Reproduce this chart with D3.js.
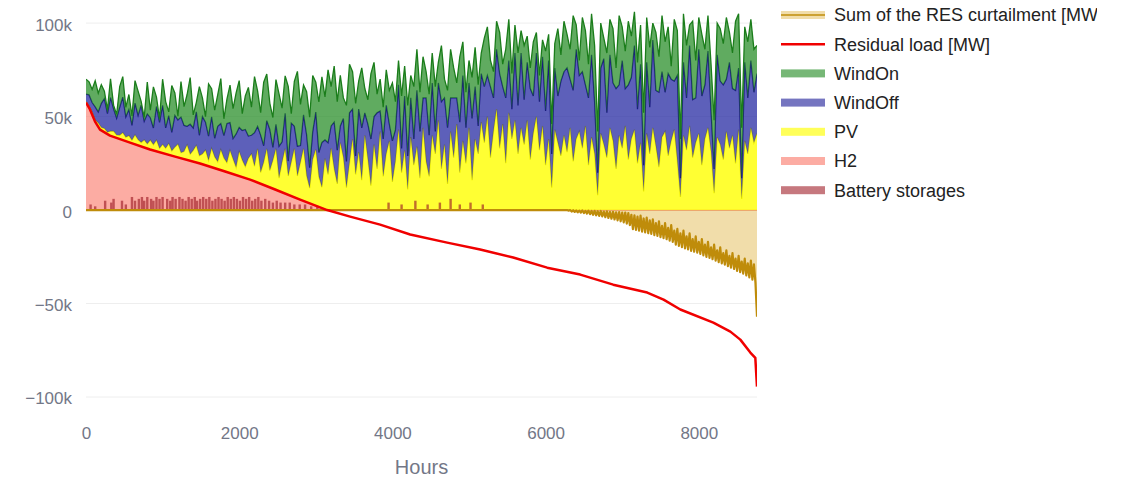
<!DOCTYPE html>
<html>
<head>
<meta charset="utf-8">
<script src="https://cdn.jsdelivr.net/npm/d3@7"></script>
<style>
  body { margin: 0; background: #fff; }
  svg { display: block; font-family: "Liberation Sans", Arial, sans-serif; }
</style>
</head>
<body>
<svg id="chart" width="1122" height="479"></svg>
<script>

// stacked generation, one sample every 40 hours (0 .. 8760)
const hours = d3.range(0, 8761, 40);

const h2 = [
  57.5,54.6,51,47.2,44.5,42.6,41.6,40.6,39.7,39.1,
  38.6,38,37.4,36.9,36.3,35.8,35.2,34.6,34.1,33.5,
  32.9,32.4,31.9,31.4,30.9,30.5,30,29.5,29.1,28.6,
  28.2,27.7,27.3,26.8,26.4,25.9,25.5,25,24.5,24,
  23.5,22.9,22.4,21.8,21.3,20.8,20.3,19.8,19.2,18.7,
  18.2,17.6,17.1,16.6,16,15.4,14.7,14.1,13.4,12.8,
  12.1,11.5,10.8,10.1,9.5,8.8,8.2,7.5,6.8,6.2,
  5.5,4.9,4.3,3.7,3,2.4,1.8,1.2,0.5,0
];

const pv = [
  0.5,1,1.5,1,2,1.5,2,1,2.5,3,
  1.5,2,4,2,3.5,1.5,5,3,2,4,
  2.5,5,3,6,2,4.5,3,6,2.5,5,
  7,3,4,8,3.5,6,9,4,5.5,8,
  3,10,6,4,11,7,5,12,8,4,
  13,9,6,11,14,8,18,6,12,20,
  9,15,22,7,16,24,10,18,26,12,
  20,28,14,8,24,30,16,11,27,19,
  33,22,14,36,28,12,25,38,19,31,
  16,40,27,13,35,22,42,18,30,37,
  15,26,43,20,32,11,39,24,34,17,
  44,26,18,40,30,48,22,35,14,42,
  28,46,20,37,25,44,16,38,30,47,
  36,50,28,42,54,33,46,25,52,38,
  48,30,44,35,48,27,41,50,32,45,
  24,38,12,43,36,29,40,31,44,26,
  38,42,33,45,24,39,30,8,41,35,
  28,44,37,22,40,33,45,27,38,43,
  25,36,10,41,30,44,34,23,39,42,
  29,37,43,26,7,40,32,45,28,36,
  41,24,38,44,31,9,39,35,27,42,
  33,40,25,43,6,37,30,44,36,41
];

const windOff = [
  4,6,5,7,6,13,16,10,18,12,
  9,15,19,11,14,8,17,13,20,10,
  16,12,9,18,14,21,11,15,10,17,
  13,19,14,10,16,12,18,11,20,15,
  13,17,10,19,14,12,21,15,11,18,
  13,16,20,12,10,18,12,20,9,15,
  22,7,13,17,11,19,8,21,12,16,
  9,18,22,11,15,20,13,24,10,17,
  12,25,18,9,21,14,27,16,10,23,
  28,12,19,25,15,30,11,20,26,9,
  22,17,24,13,29,18,21,14,30,25,
  16,34,22,28,12,20,36,25,30,18,
  32,14,27,35,19,24,33,28,15,26,
  30,22,38,18,32,40,20,35,28,16,
  36,26,40,24,31,38,20,34,26,37,
  29,42,18,33,25,40,34,45,26,38,
  48,30,41,22,36,44,28,12,35,46,
  24,39,31,43,27,47,20,40,33,45,
  29,42,14,38,25,47,30,40,35,21,
  44,33,26,46,10,39,28,43,31,24,
  45,37,29,41,22,13,44,34,40,28,
  46,25,39,33,11,42,30,36,27,32
];

const windOn = [
  8,7,7,14,10,10,4,2,10,2,
  2,11,11,5,8,5,12,13,2,2,
  17,4,22,5,2,14,14,2,25,12,
  2,19,10,17,25,7,5,26,10,3,
  28,15,15,17,24,9,13,20,16,22,
  25,9,18,26,15,30,19,12,34,25,
  14,16,24,28,18,20,40,5,24,40,
  22,16,23,27,30,16,27,35,23,39,
  21,30,26,27,11,30,26,20,28,15,
  32,13,13,35,29,10,17,17,19,18,
  31,15,13,28,16,27,12,28,22,21,
  22,14,22,16,24,11,30,10,20,26,
  16,8,35,18,19,12,22,21,22,11,
  26,26,14,14,15,22,12,26,22,19,
  15,28,12,29,14,11,29,11,14,9,
  32,14,16,13,36,14,27,18,16,40,
  13,8,29,29,18,22,30,22,24,11,
  32,19,29,11,37,18,20,34,22,18,
  25,21,28,24,32,9,31,19,30,27,
  25,7,33,24,21,26,28,11,42,20,
  17,33,19,19,25,26,17,28,22,33,
  16,19,37,29,27,19,30,22,23,15
];

const residualHours = [0,52,118,183,313,575,836,1163,1489,1816,2142,2469,2795,3148,3448,3840,
  4232,4715,5146,5577,6021,6452,6883,7327,7540,7759,8190,8412,8542,8673,8738,8760];
const residualLoad = [57.5,53.8,47.3,43,39.8,36.1,32.4,28.6,24.9,20.6,16.3,11,5.6,0,-3.5,-7.8,
  -13.1,-17.4,-21.1,-25.4,-30.8,-34.5,-39.9,-44.1,-47.9,-53.2,-60.2,-65,-69.3,-76.2,-79,-94.4];

// curtailment: zero up to hour 6280, then one sample every 20 hours
const curtailHours = [0].concat(d3.range(6280, 8761, 20));
const curtailment = [0,
  0,-0.3,0,-0.8,-0.1,-1,-0.2,-1.2,-0.3,-1.4,
  -0.2,-1.6,-0.4,-1.9,-0.3,-2.2,-0.5,-2.5,-0.4,-2.8,
  -0.6,-3.1,-0.5,-3.4,-0.8,-3.8,-0.7,-4.2,-1,-4.6,
  -0.9,-5,-1.2,-5.5,-1.1,-6,-1.4,-6.6,-1.3,-7.2,
  -1.6,-8,-2.5,-10.2,-2.8,-10.6,-3.5,-11,-3,-11.5,
  -4.5,-12,-4,-12.4,-5.5,-12.8,-5,-13.4,-7,-13.8,
  -6,-14.5,-8.5,-15,-7,-15.6,-9.5,-16.4,-8,-17,
  -11,-18.5,-10,-19.2,-12.5,-19.8,-11,-20.5,-14,-21,
  -12.5,-21.8,-15.5,-22.3,-14,-22.8,-17,-23.4,-15.5,-24.2,
  -18.5,-25,-17,-25.6,-20,-26.3,-18.5,-27,-21.5,-27.8,
  -20,-28.5,-23,-29.2,-21.5,-30,-24.5,-30.8,-23,-31.5,
  -26,-32.5,-24.5,-33.2,-27.5,-34,-26,-35,-28.5,-36,
  -27,-37.2,-29,-39,-57];

const batteryHours = [60,120,250,330,360,470,520,600,640,690,730,760,800,850,880,920,960,1000,1060,1100,
  1130,1170,1220,1260,1300,1340,1380,1420,1450,1490,1530,1570,1610,1650,1690,1730,1770,1810,1850,1890,
  1930,1970,2010,2050,2090,2130,2170,2210,2250,2290,2340,2390,2440,2490,2540,2600,2660,2720,2790,2860,
  2940,3020,3950,4120,4300,4460,4620,4760,4880,5020,5180];
const battery = [3,2,5,4,6,5,3,7,5,6,7,5,7,6,5,7,6,7,6,5,
  7,6,7,6,5,7,6,7,5,6,7,6,7,5,6,7,6,5,7,6,
  7,6,5,7,6,7,5,6,7,5,6,5,4,5,4,4,4,3,3,3,
  2,2,4,3,5,3,4,6,3,4,3];

const yTicks = [-100, -50, 0, 50, 100];
const xTicks = [0, 2000, 4000, 6000, 8000];
const legendNames = ["Sum of the RES curtailment [MW]", "Residual load [MW]", "WindOn", "WindOff", "PV", "H2", "Battery storages"];

// fill = plot area, swatch = legend sample (plot looks darker because of the dense lines)
const style = {
  "WindOn": { fill: "rgba(34,139,34,0.72)", swatch: "rgba(34,139,34,0.62)", line: "#1b7d1b" },
  "WindOff": { fill: "rgba(30,35,160,0.72)", swatch: "rgba(25,25,150,0.6)", line: "#1a1a80" },
  "PV": { fill: "rgba(255,255,0,0.8)", swatch: "rgba(255,255,0,0.65)", line: "#eeee00" },
  "H2": { fill: "rgba(250,128,114,0.65)", swatch: "rgba(250,128,114,0.65)", line: "#fa8f80" },
  "Battery storages": { fill: "rgba(160,30,40,0.65)", swatch: "rgba(160,30,40,0.6)", line: "#a01e28" },
  "Sum of the RES curtailment [MW]": { fill: "rgba(218,165,32,0.38)", swatch: "rgba(218,165,32,0.38)", line: "#bf8c0a" },
  "Residual load [MW]": { fill: null, swatch: null, line: "#f00000" }
};

const svg = d3.select("#chart");
const x = d3.scaleLinear().domain([0, 8760]).range([86, 757]);
const y = d3.scaleLinear().domain([-108, 107]).range([412, 10]);

svg.append("clipPath").attr("id", "plot")
  .append("rect").attr("x", 86).attr("y", 10).attr("width", 671).attr("height", 402);

// grid
svg.append("g").selectAll("line").data(yTicks).join("line")
  .attr("x1", 86).attr("x2", 757)
  .attr("y1", d => y(d)).attr("y2", d => y(d))
  .attr("stroke", "#eeeeee").attr("stroke-width", 1);

const plot = svg.append("g").attr("clip-path", "url(#plot)");

// stacked generation
const rows = hours.map((h, i) => ({
  hour: h, H2: h2[i] || 0, PV: pv[i], WindOff: windOff[i], WindOn: windOn[i]
}));
const series = d3.stack().keys(["H2", "PV", "WindOff", "WindOn"])(rows);

const area = d3.area().x(d => x(d.data.hour)).y0(d => y(d[0])).y1(d => y(d[1]));
const topLine = d3.line().x(d => x(d.data.hour)).y(d => y(d[1]));

series.forEach(s => {
  plot.append("path").attr("d", area(s)).attr("fill", style[s.key].fill);
  plot.append("path").attr("d", topLine(s)).attr("fill", "none")
    .attr("stroke", style[s.key].line).attr("stroke-width", 1.3);
});

// battery storages
plot.append("g").selectAll("rect").data(batteryHours).join("rect")
  .attr("x", d => x(d) - 1.2).attr("width", 2.4)
  .attr("y", (d, i) => y(battery[i]))
  .attr("height", (d, i) => y(0) - y(battery[i]))
  .attr("fill", style["Battery storages"].fill);

// curtailment
const cur = curtailHours.map((h, i) => [h, curtailment[i]]);
plot.append("path")
  .attr("d", d3.area().x(d => x(d[0])).y0(y(0)).y1(d => y(d[1]))(cur))
  .attr("fill", style["Sum of the RES curtailment [MW]"].fill);
plot.append("path")
  .attr("d", d3.line().x(d => x(d[0])).y(d => y(d[1]))(cur))
  .attr("fill", "none").attr("stroke", style["Sum of the RES curtailment [MW]"].line)
  .attr("stroke-width", 2.2).attr("stroke-linejoin", "round");

// residual load
const res = residualHours.map((h, i) => [h, residualLoad[i]]);
plot.append("path")
  .attr("d", d3.line().x(d => x(d[0])).y(d => y(d[1]))(res))
  .attr("fill", "none").attr("stroke", style["Residual load [MW]"].line)
  .attr("stroke-width", 2.5).attr("stroke-linejoin", "round");

// axes
const fmt = d3.format("~s");
const yAxis = svg.append("g").attr("transform", "translate(86,1.5)")
  .call(d3.axisLeft(y).tickValues(yTicks).tickSize(0).tickPadding(14).tickFormat(d => fmt(d * 1000)));
const xAxis = svg.append("g").attr("transform", "translate(0,412)")
  .call(d3.axisBottom(x).tickValues(xTicks).tickSize(0).tickPadding(15).tickFormat(d3.format("d")));
[yAxis, xAxis].forEach(a => {
  a.select(".domain").remove();
  a.selectAll("text").attr("fill", "#737787").style("font-size", "17px")
    .style("font-family", "'Liberation Sans', Arial, sans-serif");
});

svg.append("text").attr("x", 421.5).attr("y", 474).attr("text-anchor", "middle")
  .attr("fill", "#737787").style("font-size", "20px").text("Hours");

// legend, cut at the right edge like the original
svg.append("clipPath").attr("id", "leg")
  .append("rect").attr("x", 770).attr("y", 0).attr("width", 327).attr("height", 220);
const legend = svg.append("g").attr("clip-path", "url(#leg)");
const item = legend.selectAll("g").data(legendNames).join("g")
  .attr("transform", (d, i) => `translate(0,${15 + i * 29.2})`);
item.each(function (d) {
  const g = d3.select(this), st = style[d];
  if (st.swatch) {
    g.append("rect").attr("x", 781).attr("y", -4).attr("width", 44).attr("height", 8).attr("fill", st.swatch);
    if (d.startsWith("Sum")) g.append("line").attr("x1", 781).attr("x2", 825).attr("stroke", st.line).attr("stroke-width", 1.5);
  } else {
    g.append("line").attr("x1", 781).attr("x2", 825).attr("stroke", st.line).attr("stroke-width", 2.5);
  }
});
item.append("text").attr("x", 834).attr("y", 0).attr("dy", "0.35em")
  .attr("fill", "#222").style("font-size", "18px").text(d => d);
</script>
</body>
</html>
